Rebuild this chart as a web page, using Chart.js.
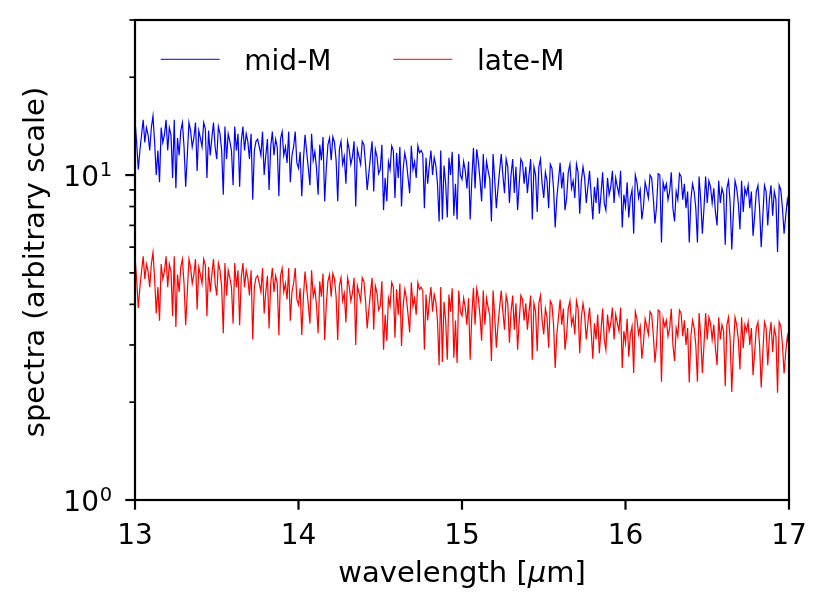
<!DOCTYPE html>
<html>
<head>
<meta charset="utf-8">
<script src="https://cdn.jsdelivr.net/npm/chart.js@4.4.1/dist/chart.umd.min.js"></script>
<style>
  html, body { margin: 0; padding: 0; background: #fff; }
  #chart { display: block; }
</style>
</head>
<body>
<canvas id="chart" width="829" height="614"></canvas>
<script>
// wavelength grid [um]
const wavelength = [
  13.00, 13.01, 13.02, 13.03, 13.04, 13.05, 13.06, 13.07, 13.08, 13.09, 13.10, 13.11, 13.12, 13.13, 13.14, 13.15, 13.16, 13.17, 13.18, 13.19, 13.20, 13.21, 13.22, 13.23, 13.24,
  13.25, 13.26, 13.27, 13.28, 13.29, 13.30, 13.31, 13.32, 13.33, 13.34, 13.35, 13.36, 13.37, 13.38, 13.39, 13.40, 13.41, 13.42, 13.43, 13.44, 13.45, 13.46, 13.47, 13.48, 13.49,
  13.50, 13.51, 13.52, 13.53, 13.54, 13.55, 13.56, 13.57, 13.58, 13.59, 13.60, 13.61, 13.62, 13.63, 13.64, 13.65, 13.66, 13.67, 13.68, 13.69, 13.70, 13.71, 13.72, 13.73, 13.74,
  13.75, 13.76, 13.77, 13.78, 13.79, 13.80, 13.81, 13.82, 13.83, 13.84, 13.85, 13.86, 13.87, 13.88, 13.89, 13.90, 13.91, 13.92, 13.93, 13.94, 13.95, 13.96, 13.97, 13.98, 13.99,
  14.00, 14.01, 14.02, 14.03, 14.04, 14.05, 14.06, 14.07, 14.08, 14.09, 14.10, 14.11, 14.12, 14.13, 14.14, 14.15, 14.16, 14.17, 14.18, 14.19, 14.20, 14.21, 14.22, 14.23, 14.24,
  14.25, 14.26, 14.27, 14.28, 14.29, 14.30, 14.31, 14.32, 14.33, 14.34, 14.35, 14.36, 14.37, 14.38, 14.39, 14.40, 14.41, 14.42, 14.43, 14.44, 14.45, 14.46, 14.47, 14.48, 14.49,
  14.50, 14.51, 14.52, 14.53, 14.54, 14.55, 14.56, 14.57, 14.58, 14.59, 14.60, 14.61, 14.62, 14.63, 14.64, 14.65, 14.66, 14.67, 14.68, 14.69, 14.70, 14.71, 14.72, 14.73, 14.74,
  14.75, 14.76, 14.77, 14.78, 14.79, 14.80, 14.81, 14.82, 14.83, 14.84, 14.85, 14.86, 14.87, 14.88, 14.89, 14.90, 14.91, 14.92, 14.93, 14.94, 14.95, 14.96, 14.97, 14.98, 14.99,
  15.00, 15.01, 15.02, 15.03, 15.04, 15.05, 15.06, 15.07, 15.08, 15.09, 15.10, 15.11, 15.12, 15.13, 15.14, 15.15, 15.16, 15.17, 15.18, 15.19, 15.20, 15.21, 15.22, 15.23, 15.24,
  15.25, 15.26, 15.27, 15.28, 15.29, 15.30, 15.31, 15.32, 15.33, 15.34, 15.35, 15.36, 15.37, 15.38, 15.39, 15.40, 15.41, 15.42, 15.43, 15.44, 15.45, 15.46, 15.47, 15.48, 15.49,
  15.50, 15.51, 15.52, 15.53, 15.54, 15.55, 15.56, 15.57, 15.58, 15.59, 15.60, 15.61, 15.62, 15.63, 15.64, 15.65, 15.66, 15.67, 15.68, 15.69, 15.70, 15.71, 15.72, 15.73, 15.74,
  15.75, 15.76, 15.77, 15.78, 15.79, 15.80, 15.81, 15.82, 15.83, 15.84, 15.85, 15.86, 15.87, 15.88, 15.89, 15.90, 15.91, 15.92, 15.93, 15.94, 15.95, 15.96, 15.97, 15.98, 15.99,
  16.00, 16.01, 16.02, 16.03, 16.04, 16.05, 16.06, 16.07, 16.08, 16.09, 16.10, 16.11, 16.12, 16.13, 16.14, 16.15, 16.16, 16.17, 16.18, 16.19, 16.20, 16.21, 16.22, 16.23, 16.24,
  16.25, 16.26, 16.27, 16.28, 16.29, 16.30, 16.31, 16.32, 16.33, 16.34, 16.35, 16.36, 16.37, 16.38, 16.39, 16.40, 16.41, 16.42, 16.43, 16.44, 16.45, 16.46, 16.47, 16.48, 16.49,
  16.50, 16.51, 16.52, 16.53, 16.54, 16.55, 16.56, 16.57, 16.58, 16.59, 16.60, 16.61, 16.62, 16.63, 16.64, 16.65, 16.66, 16.67, 16.68, 16.69, 16.70, 16.71, 16.72, 16.73, 16.74,
  16.75, 16.76, 16.77, 16.78, 16.79, 16.80, 16.81, 16.82, 16.83, 16.84, 16.85, 16.86, 16.87, 16.88, 16.89, 16.90, 16.91, 16.92, 16.93, 16.94, 16.95, 16.96, 16.97, 16.98, 16.99,
  17.00
];

// mid-M spectrum
const midM = [
  14.8, 12.6, 10.4, 11.9, 13.3, 14.8, 12.6, 14.0, 13.3, 11.9, 14.0, 15.2, 12.6, 10.0, 11.9, 9.5, 14.0, 12.6, 13.3, 14.8, 11.9, 14.0, 13.3, 9.8, 14.8,
  9.1, 13.0, 11.5, 13.7, 14.5, 12.2, 9.2, 11.5, 14.5, 13.7, 12.2, 13.0, 14.5, 10.3, 13.7, 13.0, 12.2, 14.5, 13.9, 9.8, 13.7, 11.5, 13.0, 14.5, 12.2,
  11.2, 14.1, 13.4, 11.9, 8.7, 14.1, 11.2, 13.4, 12.7, 11.9, 9.3, 14.1, 11.9, 13.4, 9.2, 12.7, 14.1, 11.9, 13.4, 12.7, 11.2, 13.4, 8.4, 11.9, 12.7,
  12.9, 12.2, 11.5, 13.6, 10.0, 11.5, 12.9, 9.0, 12.2, 13.6, 11.5, 12.9, 12.2, 8.6, 12.9, 13.6, 11.5, 12.2, 10.9, 13.6, 9.5, 11.5, 12.2, 13.6, 10.9,
  10.5, 11.8, 8.6, 11.1, 13.3, 11.8, 10.5, 9.3, 13.4, 11.1, 11.8, 10.5, 8.7, 12.4, 11.1, 13.1, 8.3, 10.5, 12.4, 13.0, 11.1, 13.1, 12.6, 11.1, 8.3,
  12.0, 12.7, 10.8, 11.4, 9.4, 12.7, 12.0, 10.8, 11.4, 12.7, 8.0, 12.0, 11.4, 10.8, 12.7, 12.4, 10.8, 9.0, 10.1, 11.4, 12.7, 8.9, 12.0, 11.4, 10.1,
  10.4, 12.4, 7.8, 9.8, 8.3, 11.0, 10.4, 12.3, 11.9, 8.5, 11.7, 9.8, 12.2, 8.0, 10.4, 11.7, 11.0, 9.8, 8.8, 12.3, 10.4, 11.0, 9.8, 12.3, 11.7,
  11.9, 11.6, 7.9, 11.3, 9.4, 10.7, 11.9, 10.0, 11.3, 10.7, 9.4, 7.2, 11.9, 7.3, 10.7, 9.4, 7.4, 11.3, 10.0, 11.8, 7.5, 9.4, 7.3, 11.6, 10.0,
  9.7, 11.0, 10.3, 9.1, 11.0, 7.3, 9.7, 12.1, 9.1, 12.0, 11.0, 9.7, 8.3, 11.6, 9.1, 11.0, 10.3, 9.7, 7.2, 11.6, 9.7, 7.9, 9.1, 10.3, 11.6,
  10.0, 8.8, 11.2, 10.6, 8.2, 10.0, 11.2, 8.8, 10.6, 7.8, 9.4, 11.2, 10.9, 9.4, 10.6, 8.8, 10.0, 11.2, 7.3, 10.6, 10.0, 7.7, 10.6, 11.2, 9.4,
  8.5, 10.2, 9.6, 7.9, 10.8, 10.5, 9.1, 6.9, 8.5, 9.6, 10.9, 9.1, 10.2, 7.8, 8.5, 10.2, 10.8, 9.1, 9.6, 8.5, 10.8, 10.2, 7.6, 9.6, 10.6,
  9.8, 8.2, 9.2, 10.3, 8.7, 7.3, 9.2, 8.2, 9.8, 7.6, 8.7, 10.2, 8.2, 7.8, 9.8, 8.7, 9.2, 10.3, 8.2, 9.8, 9.2, 8.7, 10.3, 6.9, 8.7,
  8.0, 9.5, 7.4, 8.5, 9.0, 6.6, 10.0, 9.5, 8.5, 9.0, 7.3, 8.0, 9.5, 9.0, 8.5, 10.0, 9.8, 8.5, 7.1, 8.0, 10.1, 10.0, 6.2, 9.5, 9.0,
  9.4, 8.4, 8.9, 10.2, 7.9, 7.2, 8.9, 8.4, 10.1, 9.9, 8.4, 9.4, 7.9, 8.9, 6.2, 8.4, 9.4, 8.9, 7.9, 6.2, 9.9, 8.4, 6.6, 7.9, 9.9,
  8.2, 9.6, 9.2, 8.2, 9.1, 7.7, 7.0, 9.6, 8.2, 9.1, 8.7, 6.1, 9.1, 9.6, 8.2, 5.9, 7.7, 9.6, 9.1, 8.2, 6.8, 9.6, 7.7, 9.1, 8.7,
  9.3, 7.9, 8.9, 6.5, 7.5, 8.9, 9.3, 7.9, 6.0, 7.5, 9.3, 8.9, 7.0, 8.4, 9.3, 7.5, 8.9, 8.4, 5.8, 9.3, 9.0, 7.9, 6.6, 7.5, 8.4,
  7.8
];

// late-M spectrum
const lateM = [
  5.62, 4.79, 3.90, 4.52, 5.05, 5.62, 4.79, 5.32, 5.05, 4.52, 5.32, 5.78, 4.79, 3.75, 4.52, 3.56, 5.32, 4.79, 5.05, 5.62, 4.52, 5.32, 5.05, 3.68, 5.62,
  3.41, 4.94, 4.37, 5.21, 5.51, 4.64, 3.45, 4.37, 5.51, 5.21, 4.64, 4.94, 5.51, 3.86, 5.21, 4.94, 4.64, 5.51, 5.28, 3.68, 5.21, 4.37, 4.94, 5.51, 4.64,
  4.26, 5.36, 5.09, 4.52, 3.26, 5.36, 4.26, 5.09, 4.83, 4.52, 3.49, 5.36, 4.52, 5.09, 3.45, 4.83, 5.36, 4.52, 5.09, 4.83, 4.26, 5.09, 3.12, 4.52, 4.83,
  4.90, 4.64, 4.37, 5.17, 3.75, 4.37, 4.90, 3.37, 4.64, 5.17, 4.37, 4.90, 4.64, 3.22, 4.90, 5.17, 4.37, 4.64, 4.14, 5.17, 3.56, 4.37, 4.64, 5.17, 4.14,
  3.99, 4.48, 3.22, 4.22, 5.05, 4.48, 3.99, 3.49, 5.09, 4.22, 4.48, 3.99, 3.26, 4.71, 4.22, 4.98, 3.11, 3.99, 4.71, 4.94, 4.22, 4.98, 4.79, 4.22, 3.11,
  4.56, 4.83, 4.10, 4.33, 3.52, 4.83, 4.56, 4.10, 4.33, 4.83, 3.00, 4.56, 4.33, 4.10, 4.83, 4.71, 4.10, 3.37, 3.84, 4.33, 4.83, 3.34, 4.56, 4.33, 3.84,
  3.95, 4.71, 2.90, 3.72, 3.09, 4.18, 3.95, 4.67, 4.52, 3.16, 4.45, 3.72, 4.64, 2.98, 3.95, 4.45, 4.18, 3.72, 3.28, 4.67, 3.95, 4.18, 3.72, 4.67, 4.45,
  4.52, 4.41, 2.90, 4.29, 3.57, 4.07, 4.52, 3.80, 4.29, 4.07, 3.57, 2.60, 4.52, 2.66, 4.07, 3.57, 2.70, 4.29, 3.80, 4.48, 2.74, 3.57, 2.64, 4.41, 3.80,
  3.69, 4.18, 3.91, 3.46, 4.18, 2.70, 3.69, 4.50, 3.46, 4.46, 4.18, 3.69, 3.09, 4.41, 3.46, 4.18, 3.91, 3.69, 2.68, 4.41, 3.69, 2.94, 3.46, 3.91, 4.41,
  3.80, 3.34, 4.26, 4.03, 3.05, 3.80, 4.26, 3.34, 4.03, 2.90, 3.57, 4.26, 4.14, 3.57, 4.03, 3.34, 3.80, 4.26, 2.70, 4.03, 3.80, 2.87, 4.03, 4.26, 3.57,
  3.23, 3.88, 3.65, 2.94, 4.10, 3.99, 3.46, 2.55, 3.23, 3.65, 4.14, 3.46, 3.88, 2.90, 3.23, 3.88, 4.10, 3.46, 3.65, 3.23, 4.10, 3.88, 2.83, 3.65, 4.03,
  3.72, 3.12, 3.50, 3.91, 3.31, 2.72, 3.50, 3.12, 3.72, 2.83, 3.31, 3.88, 3.12, 2.90, 3.72, 3.31, 3.50, 3.91, 3.12, 3.72, 3.50, 3.31, 3.91, 2.55, 3.31,
  3.04, 3.61, 2.76, 3.23, 3.42, 2.46, 3.80, 3.61, 3.23, 3.42, 2.72, 3.04, 3.61, 3.42, 3.23, 3.80, 3.72, 3.23, 2.65, 3.04, 3.84, 3.80, 2.31, 3.61, 3.42,
  3.57, 3.19, 3.38, 3.88, 3.00, 2.68, 3.38, 3.19, 3.84, 3.76, 3.19, 3.57, 3.00, 3.38, 2.30, 3.19, 3.57, 3.38, 3.00, 2.31, 3.76, 3.19, 2.46, 3.00, 3.76,
  3.12, 3.65, 3.50, 3.12, 3.46, 2.93, 2.60, 3.65, 3.12, 3.46, 3.31, 2.24, 3.46, 3.65, 3.12, 2.15, 2.93, 3.65, 3.46, 3.12, 2.52, 3.65, 2.93, 3.46, 3.31,
  3.53, 3.00, 3.38, 2.42, 2.85, 3.38, 3.53, 3.00, 2.22, 2.85, 3.53, 3.38, 2.60, 3.19, 3.53, 2.85, 3.38, 3.19, 2.14, 3.53, 3.42, 3.00, 2.45, 2.85, 3.19,
  2.96
];

const seriesLabels = ['mid-M', 'late-M'];
const seriesColors = ['#0000ff', '#ff0000'];

const xTicks = [13, 14, 15, 16, 17];
const yMajorTicks = [1, 10];
const yMajorExp = ['0', '1'];
const yMinorTicks = [2, 3, 4, 5, 6, 7, 8, 9, 20, 30];

const FONT = '"DejaVu Sans", "Liberation Sans", sans-serif';

// matplotlib-like frame, ticks, labels and legend
const mplAxes = {
  id: 'mplAxes',
  afterDraw(chart) {
    const { ctx, chartArea: a, scales: { x, y } } = chart;
    ctx.save();
    ctx.strokeStyle = '#000';
    ctx.fillStyle = '#000';
    ctx.lineCap = 'butt';

    const seg = (x1, y1, x2, y2) => {
      ctx.beginPath();
      ctx.moveTo(x1, y1);
      ctx.lineTo(x2, y2);
      ctx.stroke();
    };

    // tick marks
    ctx.lineWidth = 2.2;
    xTicks.forEach(v => {
      const px = x.getPixelForValue(v);
      seg(px, a.bottom, px, a.bottom + 9.7);
    });
    yMajorTicks.forEach(v => {
      const py = y.getPixelForValue(v);
      seg(a.left, py, a.left - 9.7, py);
    });
    ctx.lineWidth = 1.7;
    yMinorTicks.forEach(v => {
      const py = y.getPixelForValue(v);
      seg(a.left, py, a.left - 5.6, py);
    });

    // frame
    ctx.lineWidth = 2.2;
    ctx.strokeRect(a.left, a.top, a.right - a.left, a.bottom - a.top);

    // x tick labels
    ctx.font = '28px ' + FONT;
    ctx.textAlign = 'center';
    ctx.textBaseline = 'alphabetic';
    xTicks.forEach(v => {
      ctx.fillText(String(v), x.getPixelForValue(v), a.bottom + 43.5);
    });

    // y tick labels 10^n
    yMajorTicks.forEach((v, i) => {
      const py = y.getPixelForValue(v);
      ctx.font = '28px ' + FONT;
      ctx.textAlign = 'right';
      ctx.fillText('10', a.left - 36, py + 10.5);
      ctx.font = '19.5px ' + FONT;
      ctx.textAlign = 'left';
      ctx.fillText(yMajorExp[i], a.left - 35.3, py + 0.5);
    });

    // x axis title with italic mu
    const parts = [
      ['wavelength [', '29px ' + FONT],
      ['\u03bc', 'oblique 29px ' + FONT],
      ['m]', '29px ' + FONT]
    ];
    let total = 0;
    parts.forEach(p => { ctx.font = p[1]; total += ctx.measureText(p[0]).width; });
    let cx = (a.left + a.right) / 2 - total / 2;
    ctx.textAlign = 'left';
    parts.forEach(p => {
      ctx.font = p[1];
      ctx.fillText(p[0], cx, 581.7);
      cx += ctx.measureText(p[0]).width;
    });

    // y axis title
    ctx.save();
    ctx.translate(44, (a.top + a.bottom) / 2 + 2);
    ctx.rotate(-Math.PI / 2);
    ctx.font = '29px ' + FONT;
    ctx.textAlign = 'center';
    ctx.fillText('spectra (arbitrary scale)', 0, 0);
    ctx.restore();

    // legend
    const legendX = [160.7, 393.3];
    ctx.font = '28px ' + FONT;
    ctx.textAlign = 'left';
    seriesLabels.forEach((lab, i) => {
      ctx.strokeStyle = seriesColors[i];
      ctx.lineWidth = 1;
      seg(legendX[i], 59.3, legendX[i] + 59, 59.3);
      ctx.fillText(lab, legendX[i] + 83.6, 70);
    });

    ctx.restore();
  }
};

new Chart(document.getElementById('chart'), {
  type: 'line',
  data: {
    labels: wavelength,
    datasets: [
      { label: seriesLabels[0], data: midM, borderColor: seriesColors[0], borderWidth: 1.2, pointRadius: 0, tension: 0 },
      { label: seriesLabels[1], data: lateM, borderColor: seriesColors[1], borderWidth: 1.2, pointRadius: 0, tension: 0 }
    ]
  },
  options: {
    responsive: false,
    animation: false,
    events: [],
    layout: { padding: { left: 0, top: 20, right: 40, bottom: 0 } },
    plugins: { legend: { display: false }, tooltip: { enabled: false } },
    scales: {
      x: {
        type: 'linear',
        min: 13,
        max: 17,
        grid: { display: false },
        border: { display: false },
        ticks: { display: false },
        afterFit(scale) { scale.height = 114; }
      },
      y: {
        type: 'logarithmic',
        min: 1,
        max: 30,
        grid: { display: false },
        border: { display: false },
        ticks: { display: false },
        afterFit(scale) { scale.width = 135; }
      }
    }
  },
  plugins: [mplAxes]
});
</script>
</body>
</html>
